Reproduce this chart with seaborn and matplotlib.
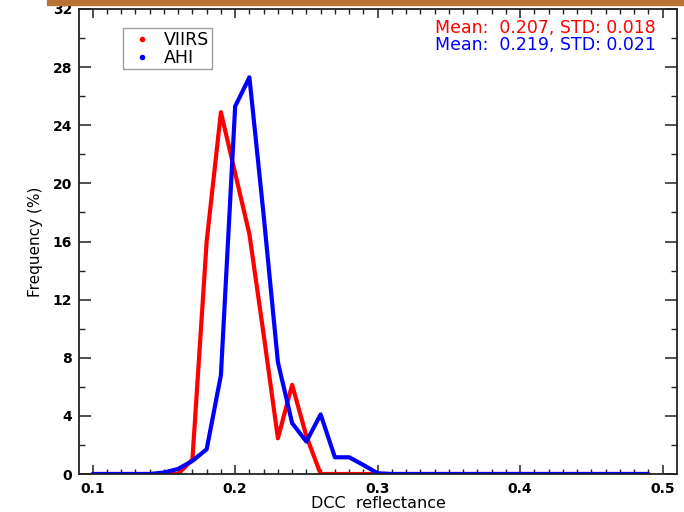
import numpy as np
import pandas as pd
import matplotlib
matplotlib.use("Agg")
import matplotlib.pyplot as plt
from matplotlib.lines import Line2D
from matplotlib.patches import Rectangle
import seaborn as sns

# ---- data ----
reflectance = [round(0.10 + 0.01 * i, 2) for i in range(40)]  # 0.10 .. 0.49
viirs = [0, 0, 0, 0, 0, 0, 0, 1.0, 16.0, 24.9,
         20.7, 16.5, 9.6, 2.46, 6.14, 2.6, 0, 0, 0, 0,
         0, 0, 0, 0, 0, 0, 0, 0, 0, 0,
         0, 0, 0, 0, 0, 0, 0, 0, 0, 0]
ahi = [0, 0, 0, 0, 0, 0.1, 0.35, 0.9, 1.7, 6.8,
       25.3, 27.3, 17.8, 7.7, 3.5, 2.23, 4.1, 1.15, 1.15, 0.62,
       0.05, 0, 0, 0, 0, 0, 0, 0, 0, 0,
       0, 0, 0, 0, 0, 0, 0, 0, 0, 0]
series_names = ["VIIRS", "AHI"]
series_colors = ["#ff0000", "#0000ff"]
stats_text = ["Mean:  0.207, STD: 0.018", "Mean:  0.219, STD: 0.021"]
x_ticks = [0.1, 0.2, 0.3, 0.4, 0.5]
y_ticks = [0, 4, 8, 12, 16, 20, 24, 28, 32]

df = pd.DataFrame({
    "DCC reflectance": reflectance * 2,
    "Frequency (%)": viirs + ahi,
    "Sensor": [series_names[0]] * len(reflectance) + [series_names[1]] * len(reflectance),
})

sns.set_theme(style="white")
plt.rcParams["font.family"] = ["DejaVu Sans"]

fig = plt.figure(figsize=(6.84, 5.12), dpi=100)
ax = fig.add_axes([79 / 684, 1 - 474 / 512, (677 - 79) / 684, (474 - 9) / 512])

sns.lineplot(data=df, x="DCC reflectance", y="Frequency (%)", hue="Sensor",
             palette=dict(zip(series_names, series_colors)), linewidth=3.0,
             ax=ax, legend=False, sort=False)

ax.set_xlim(0.0904, 0.5101)
ax.set_ylim(0, 32)
ax.set_xticks(x_ticks)
ax.set_xticklabels([f"{v:.1f}" for v in x_ticks])
ax.set_yticks(y_ticks)
ax.set_yticklabels([str(v) for v in y_ticks])
ax.set_xticks(np.arange(0.1, 0.5001, 0.01), minor=True)
ax.set_yticks(np.arange(0, 32.001, 2), minor=True)

for s in ax.spines.values():
    s.set_visible(True)
    s.set_color("#222222")
    s.set_linewidth(1.3)

ax.tick_params(axis="x", which="major", direction="in", length=6.7, width=1.1,
               top=True, bottom=True, pad=6, labelsize=10, colors="#222222")
ax.tick_params(axis="x", which="minor", direction="in", length=3.3, width=1.0,
               top=True, bottom=True, colors="#222222")
ax.tick_params(axis="y", which="major", direction="in", length=8.6, width=1.1,
               left=True, right=True, pad=5, labelsize=10, colors="#222222")
ax.tick_params(axis="y", which="minor", direction="in", length=4.3, width=1.0,
               left=True, right=True, colors="#222222")
for lab in ax.get_xticklabels() + ax.get_yticklabels():
    lab.set_fontweight("bold")
    lab.set_color("black")

ax.set_xlabel("DCC  reflectance", fontsize=11.5, labelpad=0, color="black")
ax.set_ylabel("Frequency (%)", fontsize=11, labelpad=7, color="black")

handles = [Line2D([], [], linestyle="none", marker="o", markersize=3,
                  color=c) for c in series_colors]
leg = ax.legend(handles, series_names, loc="upper left",
                bbox_to_anchor=((123 - 79) / 598, 1 - (28 - 9) / 465),
                frameon=True, fancybox=False, edgecolor="#888888",
                prop={"size": 12.5}, handlelength=1.9, handletextpad=0.3,
                borderpad=0.15, labelspacing=0.0, borderaxespad=0)
leg.get_frame().set_linewidth(1.0)
for t in leg.get_texts():
    t.set_color("black")

for i, (txt, c) in enumerate(zip(stats_text, series_colors)):
    ax.text((656 - 79) / 598, 1 - (28 + 17 * i - 9) / 465, txt, color=c,
            fontsize=12.5, family="DejaVu Sans", ha="right", va="center",
            transform=ax.transAxes)

fig.patches.append(Rectangle((47 / 684, 1 - 4.5 / 512), 1, 4.5 / 512,
                             transform=fig.transFigure, color="#b87333",
                             zorder=10))

fig.savefig("out.png", dpi=100)
